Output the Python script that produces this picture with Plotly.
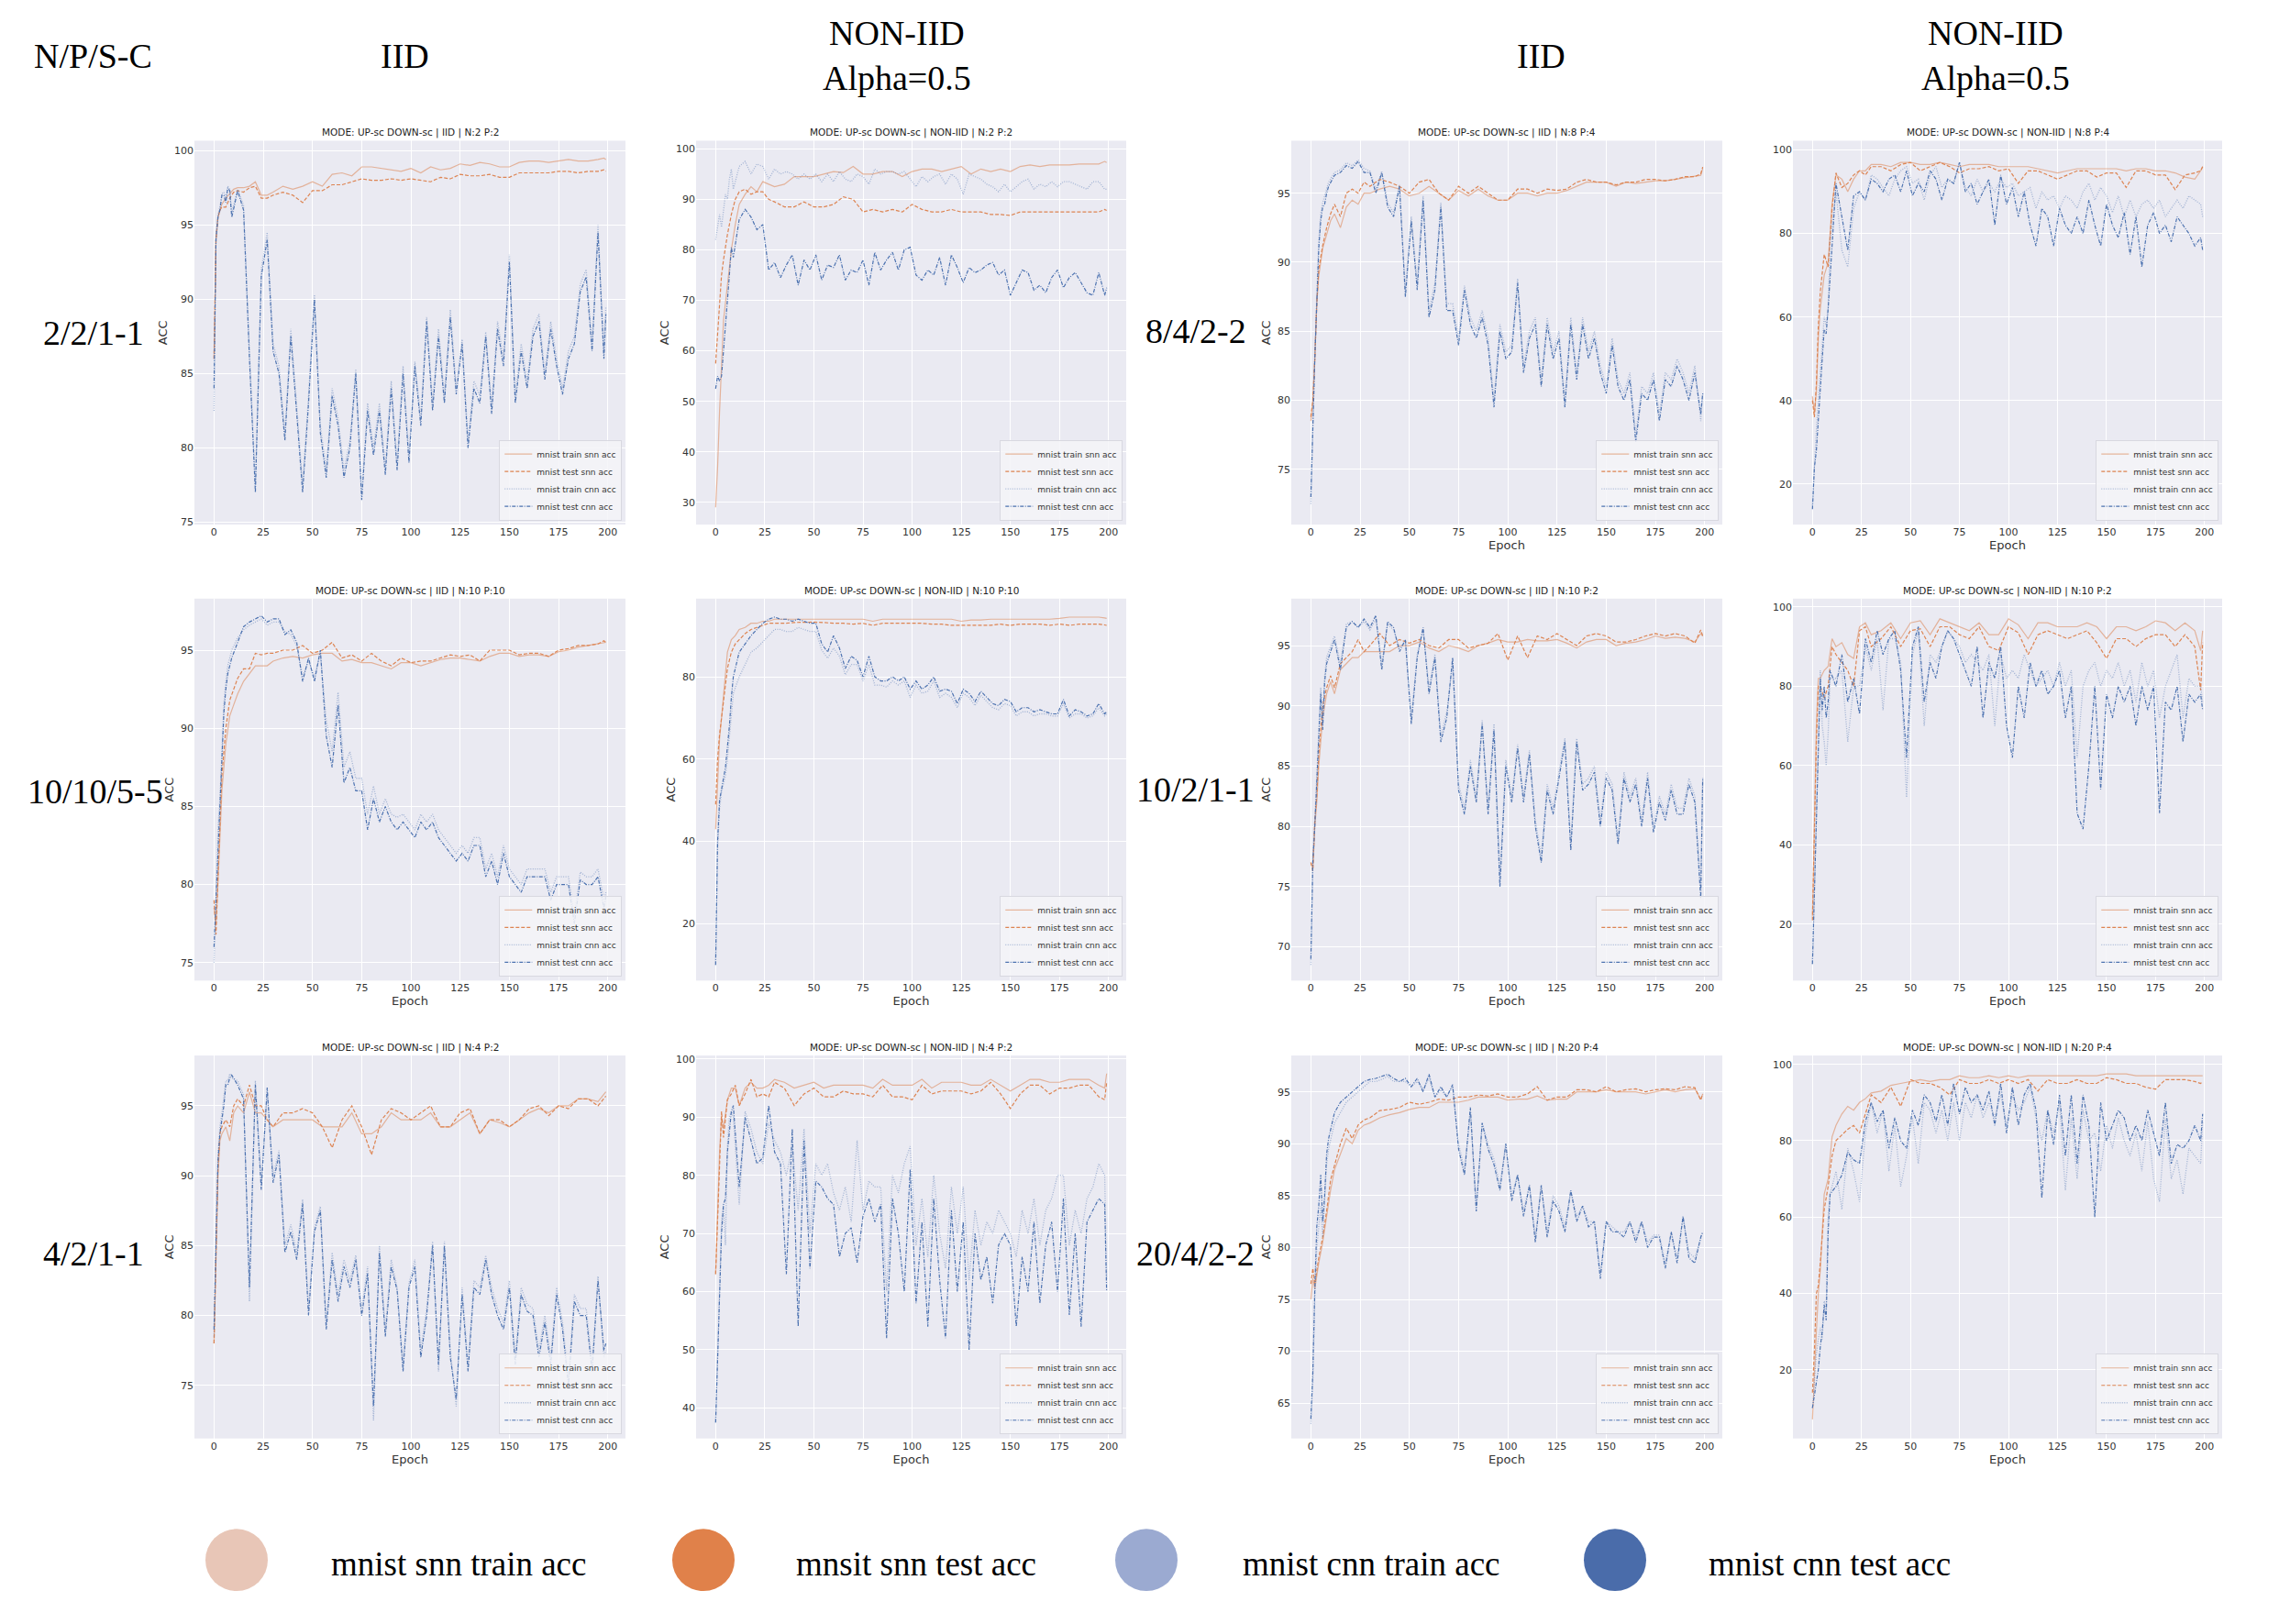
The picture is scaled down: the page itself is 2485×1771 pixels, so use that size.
import plotly.graph_objects as go

W, H = 2485, 1771

# epochs sampled for the snn curves (smoother) and the cnn curves (noisier)
EPOCHS = [0, 1, 2, 3, 4, 6, 8, 10, 12, 15, 18, 21, 24, 27, 30, 35, 40, 45, 50, 55,
          60, 65, 70, 75, 80, 85, 90, 95, 100, 105, 110, 115, 120, 125, 130, 135, 140, 145, 150, 155,
          160, 165, 170, 175, 180, 185, 190, 195, 198, 199]
CNN_EPOCHS = [0, 1, 2, 3, 4, 5, 6, 7, 8,
              9, 12, 15, 18, 21, 24, 27, 30, 33, 36,
              39, 42, 45, 48, 51, 54, 57, 60, 63, 66,
              69, 72, 75, 78, 81, 84, 87, 90, 93, 96,
              99, 102, 105, 108, 111, 114, 117, 120, 123, 126,
              129, 132, 135, 138, 141, 144, 147, 150, 153, 156,
              159, 162, 165, 168, 171, 174, 177, 180, 183, 186,
              189, 192, 195, 198, 199]

SERIES = ["mnist train snn acc", "mnist test snn acc", "mnist train cnn acc", "mnist test cnn acc"]

# ---- IID  N:2 P:2
N2P2_IID_SNN_TRAIN = [86.0, 94.0, 95.5, 96.0, 96.4, 96.8, 97.1, 97.4, 97.5, 97.5,
                      97.6, 97.9, 97.0, 97.0, 97.2, 97.6, 97.4, 97.6, 97.9, 97.6,
                      98.4, 98.5, 98.3, 98.9, 98.9, 98.8, 98.7, 98.6, 98.8, 98.5,
                      98.9, 98.7, 98.8, 99.1, 99.0, 99.2, 99.1, 98.9, 98.9, 99.2,
                      99.3, 99.3, 99.2, 99.3, 99.4, 99.3, 99.3, 99.4, 99.5, 99.4]
N2P2_IID_SNN_TEST = [86.0, 94.0, 95.5, 96.0, 96.2, 96.2, 96.8, 97.2, 97.3, 97.2,
                     97.5, 97.6, 96.8, 96.8, 97.0, 97.2, 97.0, 96.5, 97.3, 97.3,
                     97.7, 97.7, 97.9, 98.1, 98.0, 98.0, 98.1, 98.0, 98.1, 98.0,
                     97.9, 98.2, 98.1, 98.4, 98.3, 98.3, 98.4, 98.2, 98.2, 98.5,
                     98.5, 98.5, 98.5, 98.6, 98.6, 98.5, 98.6, 98.6, 98.7, 98.6]
N2P2_IID_CNN_TRAIN = [82.5, 94.2, 95.7, 96.2, 97.1, 97.2, 96.8, 97.6, 97.4,
                      95.8, 97.4, 96.3, 86.5, 77.5, 92.0, 94.5, 87.0, 85.5, 81.0,
                      88.0, 82.8, 77.5, 83.5, 90.3, 81.5, 78.5, 84.0, 82.0, 78.5,
                      80.5, 85.3, 77.0, 83.0, 80.0, 83.0, 78.7, 84.5, 79.0, 85.5,
                      79.5, 85.8, 82.0, 88.8, 83.0, 88.0, 83.5, 89.3, 84.0, 87.3,
                      80.5, 84.5, 83.5, 87.8, 82.8, 88.5, 86.0, 93.0, 83.5, 87.0,
                      84.5, 88.0, 89.0, 85.0, 88.5, 86.0, 84.0, 86.5, 87.5, 91.0,
                      92.0, 87.0, 95.0, 86.5, 89.5]
N2P2_IID_CNN_TEST = [84.0, 94.0, 95.5, 96.0, 97.0, 97.0, 96.5, 97.5, 97.3,
                     95.5, 97.3, 96.0, 86.0, 77.0, 91.5, 94.0, 86.5, 85.0, 80.5,
                     87.5, 82.3, 77.0, 83.0, 90.0, 81.0, 78.0, 83.5, 81.5, 78.0,
                     80.0, 85.0, 76.5, 82.5, 79.5, 82.5, 78.2, 84.0, 78.5, 85.0,
                     79.0, 85.5, 81.5, 88.5, 82.5, 87.5, 83.0, 88.8, 83.6, 87.0,
                     80.0, 84.0, 83.0, 87.5, 82.3, 88.0, 85.5, 92.5, 83.0, 86.5,
                     84.0, 87.5, 88.5, 84.6, 88.0, 85.5, 83.6, 86.0, 87.0, 90.5,
                     91.5, 86.5, 94.5, 86.0, 89.0]

# ---- NON-IID  N:2 P:2
N2P2_NON_SNN_TRAIN = [29.0, 37.0, 48.0, 58.0, 66.0, 73.0, 80.0, 85.0, 89.0, 91.0,
                      92.5, 91.5, 93.5, 93.0, 92.5, 93.0, 94.5, 94.5, 94.5, 95.0,
                      95.5, 95.3, 96.5, 95.0, 95.0, 95.5, 95.5, 94.5, 95.5, 96.0,
                      96.0, 95.5, 96.0, 96.5, 95.0, 96.0, 95.5, 96.0, 95.5, 96.5,
                      96.8, 96.5, 96.8, 96.8, 96.8, 97.0, 97.0, 97.0, 97.5, 97.3]
N2P2_NON_SNN_TEST = [57.5, 63.0, 70.0, 75.0, 78.0, 83.0, 87.0, 90.0, 91.5, 92.0,
                     91.0, 91.5, 91.5, 90.0, 89.5, 88.5, 88.5, 89.5, 88.5, 88.5,
                     89.0, 90.5, 90.0, 87.5, 88.0, 87.5, 88.0, 87.5, 89.0, 88.0,
                     87.5, 87.5, 88.0, 87.5, 87.5, 87.5, 87.0, 87.0, 86.8, 87.5,
                     87.5, 87.5, 87.5, 87.5, 87.5, 87.5, 87.5, 87.5, 88.0, 87.8]
N2P2_NON_CNN_TRAIN = [82.0, 85.0, 87.0, 84.5, 88.0, 91.0, 90.0, 94.0, 96.0,
                      92.0, 96.5, 97.5, 95.0, 97.0, 96.5, 94.0, 96.0, 95.0, 95.5,
                      95.0, 94.0, 95.0, 94.0, 95.0, 93.5, 95.0, 93.5, 95.5, 94.0,
                      93.5, 95.0, 94.5, 93.0, 96.0, 95.0, 95.5, 95.5, 95.0, 95.5,
                      94.0, 92.5, 94.5, 93.5, 94.5, 95.0, 93.0, 95.0, 94.0, 91.0,
                      95.0, 94.5, 94.0, 93.0, 92.5, 91.5, 93.0, 91.5, 92.5, 93.5,
                      94.0, 92.0, 93.0, 92.5, 93.5, 92.5, 93.5, 93.5, 93.0, 92.5,
                      92.0, 93.5, 93.5, 92.0, 92.0]
N2P2_NON_CNN_TEST = [52.5, 55.0, 54.0, 55.0, 60.0, 66.0, 70.0, 75.0, 80.5,
                     78.5, 86.0, 88.0, 86.5, 84.0, 85.0, 76.0, 77.5, 74.5, 77.0,
                     79.0, 73.0, 78.0, 76.0, 79.0, 74.0, 77.0, 76.5, 79.0, 74.0,
                     76.0, 75.5, 78.0, 73.0, 79.5, 76.0, 78.0, 79.5, 76.0, 80.0,
                     80.5, 75.0, 74.0, 76.0, 75.0, 78.5, 73.0, 79.0, 76.5, 73.5,
                     76.5, 75.5, 76.0, 77.0, 77.5, 75.0, 76.0, 71.0, 73.5, 76.0,
                     75.5, 72.0, 73.0, 71.5, 74.5, 76.0, 72.5, 74.5, 75.5, 73.5,
                     71.5, 71.0, 75.5, 71.0, 72.5]

# ---- IID  N:8 P:4
N8P4_IID_SNN_TRAIN = [78.5, 80.0, 83.0, 87.0, 89.0, 91.0, 92.0, 93.0, 93.5, 92.5,
                      94.0, 94.5, 94.2, 95.0, 95.0, 95.3, 95.5, 95.3, 94.8, 95.0,
                      95.5, 95.0, 94.5, 95.2, 94.8, 95.3, 94.8, 94.5, 94.5, 95.0,
                      95.0, 94.8, 95.0, 95.0, 95.2, 95.5, 95.8, 95.8, 95.8, 95.5,
                      95.8, 95.7, 95.8, 95.9, 95.9, 96.0, 96.1, 96.2, 96.3, 96.8]
N8P4_IID_SNN_TEST = [78.8, 80.0, 83.0, 87.0, 89.5, 91.2, 92.5, 93.5, 94.2, 93.3,
                     95.0, 95.3, 95.0, 95.8, 95.5, 96.0, 95.8, 95.5, 95.0, 95.8,
                     96.0, 95.0, 94.5, 95.5, 95.0, 95.5, 95.0, 94.5, 94.5, 95.3,
                     95.3, 95.0, 95.3, 95.2, 95.3, 95.8, 96.0, 95.8, 95.8, 95.6,
                     95.8, 95.8, 96.0, 96.0, 95.9, 96.0, 96.2, 96.2, 96.4, 96.9]
N8P4_IID_CNN_TRAIN = [72.5, 78.5, 83.5, 87.5, 91.5, 93.5, 94.3, 94.8, 95.3,
                      95.8, 96.5, 96.7, 97.2, 97.0, 97.4, 96.8, 96.6, 95.3, 96.6,
                      94.3, 93.6, 95.6, 88.0, 93.3, 88.5, 94.8, 86.5, 88.5, 94.3,
                      87.0, 87.0, 84.5, 88.3, 86.0, 85.0, 86.5, 84.5, 80.0, 85.5,
                      83.5, 84.0, 88.8, 82.5, 85.0, 86.0, 81.5, 86.0, 83.5, 85.0,
                      80.0, 86.0, 82.0, 86.0, 83.5, 85.0, 82.5, 81.0, 84.5, 81.5,
                      80.5, 82.0, 77.5, 81.0, 80.5, 82.0, 79.0, 82.0, 81.5, 83.0,
                      82.0, 80.5, 82.5, 78.5, 80.5]
N8P4_IID_CNN_TEST = [73.0, 79.0, 83.0, 87.0, 91.0, 93.0, 94.0, 94.2, 95.0,
                     95.5, 96.3, 96.5, 97.0, 96.8, 97.3, 96.5, 96.5, 95.0, 96.5,
                     94.0, 93.3, 95.5, 87.5, 93.0, 88.0, 94.5, 86.0, 88.0, 94.0,
                     86.5, 86.5, 84.0, 88.0, 85.5, 84.5, 86.0, 84.0, 79.5, 85.0,
                     83.0, 83.5, 88.5, 82.0, 84.5, 85.5, 81.0, 85.5, 83.0, 84.5,
                     79.5, 85.5, 81.5, 85.5, 83.0, 84.5, 82.0, 80.5, 84.0, 81.0,
                     80.0, 81.5, 77.0, 80.5, 80.0, 81.5, 78.5, 81.5, 81.0, 82.5,
                     81.5, 80.0, 82.0, 79.0, 80.5]

# ---- NON-IID  N:8 P:4
N8P4_NON_SNN_TRAIN = [41.0, 37.0, 42.0, 55.0, 62.0, 70.0, 73.0, 87.0, 94.0, 93.0,
                      90.0, 93.0, 95.0, 95.0, 96.5, 96.5, 96.0, 97.0, 97.0, 96.5,
                      96.5, 97.0, 96.5, 96.0, 96.5, 96.5, 96.5, 96.0, 96.0, 96.0,
                      96.0, 95.5, 95.0, 94.5, 95.0, 95.5, 95.5, 95.5, 95.5, 95.5,
                      95.0, 95.5, 95.5, 95.0, 95.0, 94.5, 93.5, 93.0, 95.0, 96.0]
N8P4_NON_SNN_TEST = [40.0, 36.0, 44.0, 58.0, 66.0, 75.0, 72.0, 86.0, 94.5, 91.0,
                     92.0, 94.0, 95.0, 94.0, 96.0, 96.0, 95.0, 96.5, 97.0, 95.0,
                     96.0, 97.0, 96.0, 94.5, 95.5, 95.5, 96.0, 95.0, 95.5, 92.0,
                     95.0, 95.0, 94.0, 93.0, 94.0, 95.0, 95.0, 93.5, 94.5, 94.5,
                     91.0, 95.0, 95.0, 94.0, 94.0, 90.5, 94.0, 94.5, 95.0, 96.0]
N8P4_NON_CNN_TRAIN = [15.0, 25.0, 33.0, 40.0, 46.0, 53.0, 60.0, 58.0, 62.0,
                      78.0, 90.0, 76.0, 72.0, 86.0, 90.0, 88.0, 94.0, 93.0, 91.0,
                      89.0, 93.0, 95.0, 96.0, 92.0, 93.0, 88.0, 94.0, 96.0, 91.0,
                      93.0, 92.0, 97.0, 91.0, 89.0, 93.0, 90.0, 92.0, 90.0, 93.0,
                      91.0, 92.0, 89.0, 90.0, 91.0, 86.0, 90.0, 88.0, 89.0, 86.0,
                      89.0, 88.0, 86.0, 90.0, 92.0, 88.0, 91.0, 89.0, 85.0, 89.0,
                      84.0, 88.0, 84.0, 87.0, 88.0, 86.0, 88.0, 84.0, 86.0, 88.0,
                      86.0, 89.0, 88.0, 87.0, 84.0]
N8P4_NON_CNN_TEST = [14.0, 24.0, 28.0, 36.0, 43.0, 50.0, 57.0, 56.0, 62.0,
                     70.0, 92.0, 84.0, 76.0, 89.0, 90.0, 88.0, 93.0, 92.0, 90.0,
                     93.0, 94.0, 90.0, 95.0, 89.0, 92.0, 90.0, 95.0, 93.0, 88.0,
                     93.0, 92.0, 97.0, 90.0, 92.0, 87.0, 90.0, 93.0, 82.0, 94.0,
                     87.0, 91.0, 84.0, 90.0, 82.0, 77.0, 86.0, 84.0, 77.0, 86.0,
                     82.0, 80.0, 84.0, 80.0, 88.0, 82.0, 77.0, 87.0, 82.0, 79.0,
                     85.0, 75.0, 84.0, 72.0, 82.0, 85.0, 80.0, 82.0, 78.0, 84.0,
                     82.0, 80.0, 77.0, 79.0, 76.0]

# ---- IID  N:10 P:10
N10P10_IID_SNN_TRAIN = [78.5, 77.5, 80.0, 83.5, 86.0, 89.0, 90.8, 91.5, 92.2, 93.0,
                        93.5, 94.0, 94.0, 94.0, 94.3, 94.5, 94.6, 94.5, 94.7, 94.8,
                        94.8, 94.3, 94.4, 94.2, 94.2, 94.0, 93.8, 94.2, 94.2, 94.0,
                        94.2, 94.4, 94.5, 94.5, 94.4, 94.3, 94.6, 94.8, 94.8, 94.6,
                        94.7, 94.7, 94.6, 94.9, 95.0, 95.2, 95.3, 95.4, 95.5, 95.5]
N10P10_IID_SNN_TEST = [79.0, 76.8, 80.5, 84.0, 87.0, 90.0, 91.8, 92.5, 93.2, 93.8,
                       93.8, 94.8, 94.7, 94.8, 94.8, 95.0, 95.0, 95.3, 94.8, 95.0,
                       95.5, 94.5, 94.7, 94.3, 94.8, 94.3, 94.0, 94.5, 94.2, 94.3,
                       94.3, 94.5, 94.7, 94.6, 94.7, 94.3, 95.0, 95.0, 95.0, 94.7,
                       94.8, 94.8, 94.6, 95.0, 95.1, 95.3, 95.3, 95.4, 95.6, 95.5]
N10P10_IID_CNN_TRAIN = [75.0, 79.5, 83.5, 85.5, 88.5, 91.5, 93.0, 94.0, 94.5,
                        95.0, 95.8, 96.3, 96.6, 96.8, 97.0, 96.6, 96.8, 96.8, 96.2,
                        96.0, 95.3, 93.3, 94.3, 93.3, 94.8, 90.5, 88.5, 92.3, 87.5,
                        88.5, 86.8, 86.8, 84.5, 86.3, 84.5, 85.5, 84.5, 84.3, 84.5,
                        84.0, 83.5, 84.5, 84.0, 84.5, 83.5, 83.0, 82.5, 82.0, 82.5,
                        82.0, 83.0, 83.0, 81.0, 82.0, 80.5, 82.5, 81.0, 80.5, 80.0,
                        81.0, 81.0, 81.0, 81.0, 79.5, 80.5, 80.5, 80.5, 78.0, 80.8,
                        80.5, 80.5, 81.0, 79.0, 79.5]
N10P10_IID_CNN_TEST = [76.0, 79.0, 83.0, 85.0, 88.0, 91.0, 92.5, 93.5, 94.0,
                       94.5, 95.5, 96.5, 96.8, 97.0, 97.2, 96.8, 97.0, 97.0, 96.0,
                       96.3, 95.5, 93.0, 94.5, 93.0, 95.0, 89.5, 87.5, 91.5, 86.5,
                       87.5, 86.0, 86.0, 83.5, 85.5, 84.0, 85.0, 84.0, 83.5, 84.0,
                       83.5, 83.0, 84.0, 83.5, 84.0, 83.0, 82.5, 82.0, 81.5, 82.0,
                       81.5, 82.5, 82.5, 80.5, 81.5, 80.0, 82.0, 80.5, 80.0, 79.5,
                       80.5, 80.5, 80.5, 80.5, 79.0, 80.0, 80.0, 80.0, 77.5, 80.3,
                       80.0, 80.0, 80.5, 78.5, 79.2]

# ---- NON-IID  N:10 P:10
N10P10_NON_SNN_TRAIN = [43.0, 55.0, 65.0, 70.0, 76.0, 86.0, 89.0, 90.0, 91.5, 92.0,
                        93.0, 93.0, 93.5, 93.5, 94.0, 94.0, 94.0, 94.0, 94.0, 94.0,
                        94.0, 94.0, 94.0, 94.0, 93.5, 94.0, 94.0, 94.0, 94.0, 94.0,
                        94.0, 94.0, 94.0, 93.5, 93.8, 93.8, 94.0, 94.0, 94.0, 94.0,
                        94.0, 94.0, 94.0, 94.2, 94.5, 94.5, 94.5, 94.5, 94.3, 94.2]
N10P10_NON_SNN_TEST = [49.0, 60.0, 66.0, 70.0, 74.0, 82.0, 86.0, 88.0, 89.0, 90.5,
                       91.5, 92.0, 92.5, 93.0, 93.0, 93.0, 93.2, 93.3, 93.3, 93.2,
                       93.0, 93.0, 92.8, 93.0, 92.5, 93.0, 93.0, 93.0, 93.0, 93.0,
                       92.8, 92.8, 92.5, 92.5, 92.5, 92.5, 92.5, 92.8, 92.5, 92.8,
                       92.8, 92.8, 92.5, 92.8, 92.5, 92.8, 92.8, 92.8, 92.6, 92.5]
N10P10_NON_CNN_TRAIN = [10.0, 38.0, 48.0, 52.0, 54.0, 56.0, 60.0, 65.0, 71.0,
                        76.0, 80.0, 83.0, 86.0, 87.0, 88.5, 90.0, 91.5, 91.5, 91.0,
                        91.0, 92.0, 91.5, 91.0, 91.0, 86.5, 84.5, 87.0, 85.0, 80.5,
                        83.0, 83.0, 79.0, 83.0, 78.0, 78.0, 77.5, 79.0, 78.0, 79.0,
                        75.0, 78.0, 76.0, 76.5, 79.0, 75.0, 76.0, 75.0, 72.5, 76.0,
                        75.0, 73.0, 75.5, 74.0, 72.5, 72.0, 73.5, 73.0, 70.5, 71.5,
                        71.5, 70.5, 71.0, 71.0, 70.5, 70.5, 73.5, 70.0, 71.0, 71.0,
                        70.0, 70.5, 72.5, 70.5, 71.0]
N10P10_NON_CNN_TEST = [10.0, 40.0, 50.0, 53.0, 56.0, 58.0, 63.0, 68.0, 75.0,
                       80.0, 86.0, 88.0, 90.0, 91.5, 93.0, 94.0, 94.5, 94.0, 94.0,
                       93.5, 94.0, 93.5, 93.0, 93.0, 88.0, 86.0, 90.0, 87.0, 82.0,
                       85.0, 84.0, 80.0, 85.0, 80.0, 79.0, 79.0, 80.0, 79.0, 80.0,
                       77.0, 79.0, 77.0, 78.0, 80.0, 76.5, 77.0, 76.5, 73.5, 77.0,
                       76.0, 74.0, 76.5, 75.0, 73.5, 73.0, 74.5, 74.0, 71.5, 72.5,
                       72.5, 71.5, 72.0, 71.5, 71.0, 71.0, 74.5, 70.5, 72.0, 71.5,
                       70.5, 71.0, 73.5, 71.0, 71.5]

# ---- IID  N:10 P:2
N10P2_IID_SNN_TRAIN = [77.0, 76.5, 80.0, 82.0, 85.0, 89.0, 91.0, 92.0, 91.0, 93.0,
                       93.5, 94.0, 94.0, 94.5, 94.5, 94.5, 94.5, 95.0, 95.0, 95.3,
                       94.8, 94.5, 95.0, 94.8, 94.5, 95.0, 95.2, 95.5, 95.3, 95.3,
                       95.5, 95.4, 95.4, 95.5, 95.2, 94.8, 95.3, 95.5, 95.5, 95.0,
                       95.2, 95.3, 95.5, 95.8, 95.6, 95.7, 95.6, 95.3, 96.0, 95.8]
N10P2_IID_SNN_TEST = [77.0, 76.3, 80.5, 82.5, 86.0, 90.0, 91.5, 92.5, 91.5, 93.5,
                      94.0, 94.5, 95.5, 94.5, 95.0, 96.0, 95.0, 95.5, 95.2, 95.5,
                      95.0, 94.8, 95.5, 95.5, 94.8, 95.0, 95.2, 96.0, 93.8, 95.8,
                      94.0, 95.8, 95.5, 96.0, 95.5, 95.0, 95.8, 96.0, 95.8, 95.3,
                      95.3, 95.5, 95.8, 96.0, 95.8, 96.0, 95.8, 95.2, 96.3, 95.8]
N10P2_IID_CNN_TRAIN = [68.5, 77.5, 80.5, 84.5, 88.5, 91.5, 89.0, 92.5, 94.0,
                       94.5, 95.8, 93.5, 96.8, 97.0, 96.5, 97.0, 96.3, 97.2, 93.5,
                       96.8, 96.3, 94.8, 95.3, 89.0, 94.3, 96.3, 91.5, 94.3, 87.5,
                       89.5, 93.5, 83.5, 81.5, 85.5, 82.5, 88.8, 81.5, 88.5, 76.0,
                       85.5, 82.5, 86.8, 82.5, 86.3, 80.5, 77.5, 83.5, 81.5, 84.5,
                       87.3, 78.5, 87.3, 83.5, 84.0, 85.0, 80.5, 84.5, 83.5, 79.0,
                       84.5, 82.5, 84.0, 80.5, 84.5, 80.0, 82.5, 81.0, 83.5, 81.5,
                       81.5, 84.0, 82.5, 75.0, 84.0]
N10P2_IID_CNN_TEST = [69.0, 77.0, 80.0, 84.0, 88.0, 91.0, 88.0, 92.0, 93.5,
                      94.0, 95.5, 93.0, 96.5, 97.0, 96.5, 97.2, 96.5, 97.5, 93.0,
                      97.0, 96.5, 94.5, 95.5, 88.5, 94.0, 96.5, 91.0, 94.0, 87.0,
                      89.0, 94.0, 83.0, 81.0, 85.0, 82.0, 88.5, 81.0, 88.0, 75.0,
                      85.0, 82.0, 86.5, 82.0, 86.0, 80.0, 77.0, 83.0, 81.0, 84.0,
                      87.0, 78.0, 87.0, 83.0, 83.5, 84.5, 80.0, 84.0, 83.0, 78.5,
                      84.0, 82.0, 83.5, 80.0, 84.0, 79.5, 82.0, 80.5, 83.0, 81.0,
                      81.0, 83.5, 82.0, 74.0, 84.0]

# ---- NON-IID  N:10 P:2
N10P2_NON_SNN_TRAIN = [22.0, 50.0, 70.0, 82.0, 82.0, 84.0, 85.0, 92.0, 90.0, 91.0,
                       88.0, 87.0, 95.0, 96.0, 93.0, 94.0, 96.0, 92.0, 96.0, 96.5,
                       93.0, 97.0, 96.0, 95.0, 94.0, 96.0, 93.0, 93.0, 97.0, 95.5,
                       92.0, 96.0, 96.0, 95.0, 95.0, 95.0, 96.0, 95.0, 92.0, 95.0,
                       95.0, 94.0, 95.0, 96.5, 96.0, 94.0, 96.0, 94.0, 89.0, 94.0]
N10P2_NON_SNN_TEST = [21.0, 48.0, 66.0, 80.0, 80.0, 77.0, 80.0, 90.0, 88.0, 86.0,
                      84.0, 80.0, 94.0, 95.0, 90.0, 92.0, 95.0, 90.0, 94.0, 94.5,
                      90.0, 95.0, 95.0, 93.0, 92.0, 95.0, 90.0, 89.0, 95.0, 93.5,
                      88.0, 93.0, 94.0, 93.0, 92.0, 93.0, 94.0, 91.0, 87.0, 92.0,
                      92.0, 90.0, 92.0, 93.0, 93.0, 90.0, 93.0, 90.0, 79.0, 91.0]
N10P2_NON_CNN_TRAIN = [10.0, 30.0, 50.0, 65.0, 84.0, 70.0, 66.0, 60.0, 68.0,
                       82.0, 82.0, 84.0, 66.0, 80.0, 80.0, 90.0, 84.0, 92.0, 74.0,
                       92.0, 92.0, 86.0, 52.0, 88.0, 94.0, 70.0, 88.0, 86.0, 90.0,
                       94.0, 92.0, 90.0, 86.0, 88.0, 86.0, 84.0, 88.0, 70.0, 88.0,
                       82.0, 84.0, 82.0, 88.0, 84.0, 80.0, 82.0, 84.0, 80.0, 86.0,
                       80.0, 84.0, 62.0, 80.0, 84.0, 86.0, 80.0, 84.0, 82.0, 86.0,
                       80.0, 84.0, 76.0, 86.0, 80.0, 84.0, 72.0, 80.0, 84.0, 88.0,
                       72.0, 82.0, 80.0, 80.0, 76.0]
N10P2_NON_CNN_TEST = [10.0, 28.0, 48.0, 62.0, 82.0, 74.0, 80.0, 72.0, 76.0,
                      84.0, 80.0, 88.0, 76.0, 82.0, 73.0, 92.0, 86.0, 94.0, 88.0,
                      92.0, 94.0, 84.0, 62.0, 90.0, 95.0, 76.0, 86.0, 82.0, 90.0,
                      94.0, 92.0, 88.0, 84.0, 80.0, 90.0, 72.0, 86.0, 82.0, 90.0,
                      70.0, 62.0, 80.0, 72.0, 86.0, 80.0, 84.0, 78.0, 80.0, 84.0,
                      72.0, 80.0, 48.0, 44.0, 60.0, 80.0, 54.0, 78.0, 72.0, 80.0,
                      76.0, 80.0, 70.0, 80.0, 74.0, 80.0, 48.0, 76.0, 74.0, 80.0,
                      66.0, 78.0, 76.0, 78.0, 74.0]

# ---- IID  N:4 P:2
N4P2_IID_SNN_TRAIN = [78.0, 84.0, 90.0, 92.5, 93.0, 93.5, 92.5, 94.5, 95.0, 94.5,
                      96.0, 94.5, 94.5, 94.0, 93.5, 94.0, 94.0, 94.0, 94.0, 93.5,
                      93.5, 93.5, 94.5, 93.0, 93.0, 93.5, 94.5, 94.0, 94.0, 94.0,
                      94.5, 93.5, 93.5, 94.0, 94.5, 93.0, 94.0, 93.8, 93.5, 94.0,
                      94.5, 94.8, 94.5, 95.0, 95.0, 95.5, 95.5, 95.3, 95.8, 96.0]
N4P2_IID_SNN_TEST = [78.0, 85.0, 90.5, 93.0, 93.5, 94.0, 93.5, 95.0, 95.5, 95.0,
                     96.5, 95.0, 95.0, 94.0, 93.5, 94.5, 94.5, 94.8, 94.5, 93.5,
                     92.0, 94.0, 95.0, 93.5, 91.5, 94.0, 94.8, 94.5, 94.0, 94.5,
                     95.0, 93.5, 93.5, 94.5, 94.8, 93.0, 94.0, 94.0, 93.5, 94.0,
                     94.8, 95.0, 94.3, 95.0, 94.8, 95.5, 95.5, 95.0, 95.5, 95.7]
N4P2_IID_CNN_TRAIN = [78.5, 86.5, 91.5, 93.5, 94.5, 95.5, 96.8, 96.8, 97.3,
                      97.0, 96.8, 95.8, 81.0, 96.8, 89.5, 96.0, 90.0, 91.8, 85.0,
                      86.5, 84.5, 88.3, 80.5, 86.3, 87.8, 79.5, 84.5, 81.5, 84.0,
                      82.5, 84.3, 80.5, 83.5, 72.5, 85.0, 79.0, 84.0, 82.0, 76.5,
                      82.3, 84.0, 77.5, 80.5, 85.3, 76.0, 85.3, 77.5, 73.5, 82.0,
                      76.5, 82.5, 82.0, 84.3, 82.0, 80.5, 79.5, 82.5, 77.0, 82.0,
                      80.8, 80.5, 77.5, 80.0, 77.0, 82.0, 79.5, 75.5, 81.5, 80.5,
                      80.5, 76.5, 82.8, 77.0, 77.5]
N4P2_IID_CNN_TEST = [79.0, 86.0, 91.0, 93.0, 94.0, 95.0, 96.5, 96.5, 97.0,
                     97.2, 96.5, 95.5, 82.0, 96.5, 89.0, 96.3, 89.5, 91.5, 84.5,
                     86.0, 84.0, 88.0, 80.0, 86.0, 87.5, 79.0, 84.0, 81.0, 83.5,
                     82.0, 84.0, 80.0, 83.0, 73.5, 84.5, 78.5, 83.5, 81.8, 76.0,
                     82.0, 83.5, 77.0, 80.0, 85.0, 76.5, 85.0, 77.0, 74.0, 81.5,
                     76.0, 82.0, 81.5, 84.0, 81.5, 80.0, 79.0, 82.0, 76.5, 81.5,
                     80.3, 80.0, 77.0, 79.5, 76.5, 81.5, 79.0, 75.0, 81.0, 80.0,
                     80.0, 76.0, 82.5, 77.5, 78.0]

# ---- NON-IID  N:4 P:2
N4P2_NON_SNN_TRAIN = [63.0, 75.0, 84.0, 90.0, 88.0, 93.0, 95.0, 95.0, 92.0, 95.0,
                      96.0, 95.0, 95.0, 95.5, 96.5, 96.0, 95.0, 95.5, 96.0, 95.0,
                      95.5, 95.5, 95.5, 95.5, 95.0, 96.5, 95.5, 95.5, 95.5, 96.5,
                      95.0, 96.0, 96.0, 96.0, 95.5, 95.5, 96.5, 95.5, 94.5, 95.5,
                      96.5, 96.5, 96.0, 96.0, 96.5, 96.5, 96.5, 95.5, 95.0, 97.5]
N4P2_NON_SNN_TEST = [63.0, 73.0, 82.0, 91.0, 86.5, 93.0, 94.0, 95.5, 92.0, 94.0,
                     96.5, 93.5, 94.0, 93.5, 96.0, 95.0, 92.0, 94.0, 95.0, 93.5,
                     93.5, 94.5, 94.0, 94.0, 93.5, 95.5, 93.5, 93.5, 93.0, 95.5,
                     94.0, 94.5, 94.5, 94.5, 94.0, 94.5, 96.0, 94.0, 91.5, 94.0,
                     95.5, 95.5, 94.0, 95.0, 95.0, 95.5, 95.5, 93.5, 93.0, 96.0]
N4P2_NON_CNN_TRAIN = [37.5, 50.0, 62.0, 72.0, 75.0, 68.0, 85.0, 90.0, 91.0,
                      90.0, 75.0, 91.0, 88.0, 84.0, 82.0, 89.0, 86.0, 84.0, 80.0,
                      85.0, 74.0, 88.0, 70.0, 82.0, 80.0, 82.0, 77.0, 74.0, 78.0,
                      72.0, 86.0, 74.0, 79.0, 78.0, 78.0, 60.0, 80.0, 77.0, 82.0,
                      85.0, 68.0, 76.0, 66.0, 80.0, 70.0, 64.0, 78.0, 70.0, 78.0,
                      62.0, 74.0, 68.0, 72.0, 70.0, 74.0, 72.0, 70.0, 66.0, 74.0,
                      70.0, 76.0, 68.0, 74.0, 76.0, 80.0, 80.0, 68.0, 74.0, 70.0,
                      76.0, 78.0, 82.0, 80.0, 62.0]
N4P2_NON_CNN_TEST = [37.5, 48.0, 58.0, 70.0, 75.0, 76.0, 84.0, 88.0, 91.0,
                     92.0, 78.0, 90.0, 86.0, 82.0, 83.0, 92.0, 84.0, 82.0, 63.0,
                     88.0, 54.0, 86.0, 64.0, 79.0, 78.0, 76.0, 75.0, 66.0, 70.0,
                     71.0, 65.0, 73.0, 76.0, 72.0, 75.0, 52.0, 76.0, 70.0, 60.0,
                     81.0, 58.0, 72.0, 54.0, 76.0, 62.0, 52.0, 74.0, 60.0, 72.0,
                     50.0, 70.0, 62.0, 66.0, 58.0, 68.0, 70.0, 68.0, 54.0, 66.0,
                     60.0, 72.0, 58.0, 68.0, 72.0, 60.0, 76.0, 56.0, 70.0, 54.0,
                     72.0, 74.0, 76.0, 75.0, 60.0]

# ---- IID  N:20 P:4
N20P4_IID_SNN_TRAIN = [75.0, 77.0, 76.0, 77.5, 78.5, 80.5, 83.0, 85.5, 87.5, 89.0,
                       90.5, 90.0, 91.3, 91.8, 92.0, 92.5, 92.8, 93.0, 93.3, 93.5,
                       93.5, 94.0, 94.0, 94.0, 94.2, 94.5, 94.5, 94.5, 94.2, 94.3,
                       94.3, 94.6, 94.2, 94.3, 94.3, 95.0, 95.0, 95.0, 95.2, 95.0,
                       95.0, 95.0, 94.8, 95.0, 95.2, 95.0, 95.2, 95.3, 94.3, 94.8]
N20P4_IID_SNN_TEST = [76.5, 78.0, 76.5, 78.0, 79.0, 81.0, 83.5, 86.5, 88.0, 90.0,
                      91.5, 90.5, 91.8, 92.3, 92.5, 93.2, 93.3, 93.5, 94.0, 93.8,
                      94.0, 94.3, 94.2, 94.5, 94.5, 94.7, 94.6, 94.8, 94.5, 94.5,
                      94.8, 95.5, 94.2, 94.5, 94.5, 95.2, 95.2, 95.0, 95.5, 95.0,
                      95.2, 95.3, 95.0, 95.2, 95.3, 95.2, 95.5, 95.4, 94.2, 94.8]
N20P4_IID_CNN_TRAIN = [63.0, 67.0, 75.0, 80.0, 82.0, 84.0, 81.0, 84.0, 88.0,
                       89.5, 92.0, 93.0, 94.0, 94.5, 95.0, 95.5, 96.0, 96.0, 96.2,
                       96.5, 96.0, 96.0, 96.0, 95.5, 96.0, 95.3, 96.3, 94.5, 95.2,
                       94.5, 95.5, 90.0, 87.5, 93.0, 84.0, 92.0, 90.0, 88.5, 86.0,
                       90.0, 85.0, 87.0, 83.5, 86.0, 81.0, 86.0, 81.5, 85.0, 84.0,
                       82.0, 85.5, 83.0, 84.0, 82.5, 82.5, 77.5, 82.5, 82.0, 81.5,
                       81.5, 82.5, 81.0, 82.5, 80.5, 81.2, 81.2, 78.5, 81.5, 79.0,
                       83.0, 79.5, 79.0, 81.0, 81.5]
N20P4_IID_CNN_TEST = [63.5, 68.0, 76.0, 82.0, 84.0, 87.0, 82.5, 85.0, 89.0,
                      90.5, 93.0, 94.0, 94.5, 95.0, 95.5, 96.0, 96.2, 96.3, 96.5,
                      96.7, 96.3, 96.0, 96.3, 95.5, 96.3, 95.0, 96.7, 94.5, 95.5,
                      94.5, 95.7, 89.5, 87.0, 93.5, 83.5, 92.0, 89.5, 88.0, 85.5,
                      90.0, 84.5, 87.0, 83.0, 86.0, 80.5, 86.0, 81.0, 84.5, 83.5,
                      81.5, 85.5, 82.5, 84.0, 82.0, 82.5, 77.0, 82.5, 81.5, 81.5,
                      81.0, 82.5, 80.5, 82.5, 80.0, 81.0, 81.0, 78.0, 81.5, 78.5,
                      83.0, 79.0, 78.5, 81.0, 81.5]

# ---- NON-IID  N:20 P:4
N20P4_NON_SNN_TRAIN = [7.0, 20.0, 30.0, 40.0, 46.0, 66.0, 70.0, 81.0, 84.0, 87.0,
                       89.0, 88.0, 90.0, 91.0, 92.5, 93.0, 94.5, 95.0, 95.5, 96.0,
                       95.5, 96.0, 96.0, 97.0, 96.5, 96.5, 97.0, 96.5, 97.0, 96.5,
                       97.0, 97.0, 97.0, 97.0, 97.0, 97.0, 97.0, 97.0, 97.5, 97.5,
                       97.5, 97.0, 97.0, 97.0, 97.0, 97.0, 97.0, 97.0, 97.0, 97.0]
N20P4_NON_SNN_TEST = [14.0, 25.0, 40.0, 42.0, 48.0, 62.0, 68.0, 76.0, 80.0, 81.5,
                      83.0, 84.0, 82.0, 87.0, 92.0, 90.0, 94.0, 89.0, 96.0, 95.0,
                      95.0, 94.0, 92.0, 96.0, 95.0, 95.0, 96.0, 95.0, 96.0, 95.0,
                      96.0, 93.0, 96.0, 95.0, 95.0, 96.0, 95.0, 95.0, 96.5, 96.0,
                      95.0, 95.0, 94.0, 93.5, 96.0, 96.0, 96.0, 95.5, 95.0, 95.5]
N20P4_NON_CNN_TRAIN = [10.0, 18.0, 24.0, 28.0, 31.0, 28.0, 38.0, 36.0, 60.0,
                       66.0, 72.0, 62.0, 78.0, 72.0, 64.0, 82.0, 90.0, 82.0, 88.0,
                       72.0, 84.0, 68.0, 76.0, 86.0, 74.0, 90.0, 88.0, 82.0, 88.0,
                       80.0, 90.0, 80.0, 90.0, 86.0, 92.0, 86.0, 90.0, 86.0, 92.0,
                       84.0, 92.0, 88.0, 90.0, 94.0, 86.0, 80.0, 88.0, 82.0, 90.0,
                       67.0, 86.0, 70.0, 88.0, 80.0, 82.0, 72.0, 84.0, 78.0, 86.0,
                       80.0, 76.0, 82.0, 72.0, 85.0, 70.0, 64.0, 86.0, 70.0, 75.0,
                       66.0, 78.0, 76.0, 74.0, 85.0]
N20P4_NON_CNN_TEST = [10.0, 13.0, 17.0, 20.0, 26.0, 30.0, 37.0, 33.0, 56.0,
                      66.0, 68.0, 71.0, 77.0, 75.0, 74.0, 85.0, 90.0, 85.0, 88.0,
                      78.0, 86.0, 80.0, 78.0, 88.0, 84.0, 92.0, 90.0, 85.0, 92.0,
                      84.0, 95.0, 87.0, 94.0, 90.0, 92.0, 88.0, 93.0, 84.0, 95.0,
                      82.0, 94.0, 84.0, 92.0, 95.0, 88.0, 65.0, 88.0, 79.0, 92.0,
                      76.0, 92.0, 74.0, 92.0, 84.0, 60.0, 90.0, 80.0, 84.0, 88.0,
                      86.0, 80.0, 84.0, 80.0, 88.0, 82.0, 76.0, 90.0, 74.0, 79.0,
                      78.0, 80.0, 84.0, 80.0, 87.0]

# panel order: row by row, left to right
PANELS = [
    ("MODE: UP-sc DOWN-sc | IID | N:2 P:2", [N2P2_IID_SNN_TRAIN, N2P2_IID_SNN_TEST, N2P2_IID_CNN_TRAIN, N2P2_IID_CNN_TEST], [74.84, 100.66], 5, True, False),
    ("MODE: UP-sc DOWN-sc | NON-IID | N:2 P:2", [N2P2_NON_SNN_TRAIN, N2P2_NON_SNN_TEST, N2P2_NON_CNN_TRAIN, N2P2_NON_CNN_TEST], [25.6, 101.6], 10, True, False),
    ("MODE: UP-sc DOWN-sc | IID | N:8 P:4", [N8P4_IID_SNN_TRAIN, N8P4_IID_SNN_TEST, N8P4_IID_CNN_TRAIN, N8P4_IID_CNN_TEST], [71.0, 98.8], 5, True, True),
    ("MODE: UP-sc DOWN-sc | NON-IID | N:8 P:4", [N8P4_NON_SNN_TRAIN, N8P4_NON_SNN_TEST, N8P4_NON_CNN_TRAIN, N8P4_NON_CNN_TEST], [10.3, 102.2], 20, False, True),
    ("MODE: UP-sc DOWN-sc | IID | N:10 P:10", [N10P10_IID_SNN_TRAIN, N10P10_IID_SNN_TEST, N10P10_IID_CNN_TRAIN, N10P10_IID_CNN_TEST], [73.85, 98.3], 5, True, True),
    ("MODE: UP-sc DOWN-sc | NON-IID | N:10 P:10", [N10P10_NON_SNN_TRAIN, N10P10_NON_SNN_TEST, N10P10_NON_CNN_TRAIN, N10P10_NON_CNN_TEST], [6.2, 99.0], 20, True, True),
    ("MODE: UP-sc DOWN-sc | IID | N:10 P:2", [N10P2_IID_SNN_TRAIN, N10P2_IID_SNN_TEST, N10P2_IID_CNN_TRAIN, N10P2_IID_CNN_TEST], [67.2, 98.9], 5, True, True),
    ("MODE: UP-sc DOWN-sc | NON-IID | N:10 P:2", [N10P2_NON_SNN_TRAIN, N10P2_NON_SNN_TEST, N10P2_NON_CNN_TRAIN, N10P2_NON_CNN_TEST], [5.8, 102.1], 20, False, True),
    ("MODE: UP-sc DOWN-sc | IID | N:4 P:2", [N4P2_IID_SNN_TRAIN, N4P2_IID_SNN_TEST, N4P2_IID_CNN_TRAIN, N4P2_IID_CNN_TEST], [71.2, 98.6], 5, True, True),
    ("MODE: UP-sc DOWN-sc | NON-IID | N:4 P:2", [N4P2_NON_SNN_TRAIN, N4P2_NON_SNN_TEST, N4P2_NON_CNN_TRAIN, N4P2_NON_CNN_TEST], [34.75, 100.6], 10, True, True),
    ("MODE: UP-sc DOWN-sc | IID | N:20 P:4", [N20P4_IID_SNN_TRAIN, N20P4_IID_SNN_TEST, N20P4_IID_CNN_TRAIN, N20P4_IID_CNN_TEST], [61.6, 98.5], 5, True, True),
    ("MODE: UP-sc DOWN-sc | NON-IID | N:20 P:4", [N20P4_NON_SNN_TRAIN, N20P4_NON_SNN_TEST, N20P4_NON_CNN_TRAIN, N20P4_NON_CNN_TEST], [2.0, 102.3], 20, False, True),
]

ROW_LABELS = ["2/2/1-1", "8/4/2-2", "10/10/5-5", "10/2/1-1", "4/2/1-1", "20/4/2-2"]
COL_HEADERS = ["N/P/S-C", "IID", "NON-IID<br>Alpha=0.5", "IID", "NON-IID<br>Alpha=0.5"]
BIG_LEGEND = ["mnist snn train acc", "mnsit snn test acc", "mnist cnn train acc", "mnist cnn test acc"]

# styling
LINE_STYLES = [
    dict(color="rgba(221,132,82,0.55)", width=1.2, dash="solid"),
    dict(color="#DD8452", width=1.2, dash="4px,2px"),
    dict(color="rgba(76,114,176,0.45)", width=1.3, dash="1px,1.5px"),
    dict(color="#4C72B0", width=1.2, dash="4px,1.5px,1px,1.5px"),
]
BIG_COLORS = ["#E8C6B7", "#E0814A", "#9BAAD1", "#4A6CAA"]

COL_PX = [(212, 682), (759, 1228), (1408, 1878), (1955, 2423)]
ROW_PX = [(152, 572), (653, 1071), (1153, 1572)]


def px_x(x):
    return x / W


def px_y(y):
    return 1 - y / H


fig = go.Figure()
layout = dict(width=W, height=H, margin=dict(l=0, r=0, t=0, b=0),
              paper_bgcolor="white", plot_bgcolor="#EAEAF2", showlegend=True)
annotations = []
shapes = []
tick_font = dict(family="DejaVu Sans", size=11, color="#333333")

for i, (title, series, yrange, ydtick, ytitle, xtitle) in enumerate(PANELS):
    r, c = divmod(i, 4)
    n = "" if i == 0 else str(i + 1)
    x0, x1 = COL_PX[c]
    y0, y1 = ROW_PX[r]
    xd = [px_x(x0), px_x(x1)]
    yd = [px_y(y1), px_y(y0)]
    lg = "legend" + n
    for k, ys in enumerate(series):
        xs = EPOCHS if k < 2 else CNN_EPOCHS
        fig.add_trace(go.Scatter(x=xs, y=ys, mode="lines", name=SERIES[k],
                                 line=LINE_STYLES[k], xaxis="x" + n, yaxis="y" + n,
                                 legend=lg, showlegend=True))
    layout["xaxis" + n] = dict(domain=xd, anchor="y" + n, range=[-9.95, 208.95],
                               tick0=0, dtick=25, showgrid=True, gridcolor="white", gridwidth=1,
                               zeroline=False, showline=False, ticks="", tickfont=tick_font,
                               title=dict(text="Epoch" if xtitle else "", font=dict(family="DejaVu Sans", size=13, color="#333333"),
                                          standoff=2))
    layout["yaxis" + n] = dict(domain=yd, anchor="x" + n, range=yrange,
                               tick0=0, dtick=ydtick, showgrid=True, gridcolor="white", gridwidth=1,
                               zeroline=False, showline=False, ticks="", tickfont=tick_font,
                               title=dict(text="ACC" if ytitle else "", font=dict(family="DejaVu Sans", size=13, color="#333333"),
                                          standoff=4))
    layout[lg] = dict(x=xd[1] - 0.0015, y=yd[0] + 0.0025, xanchor="right", yanchor="bottom",
                      bgcolor="rgba(244,244,248,0.85)", bordercolor="#D8D8E0", borderwidth=1,
                      font=dict(family="DejaVu Sans", size=9, color="#333333"),
                      tracegroupgap=0, itemwidth=30, traceorder="normal")
    annotations.append(dict(text=title, x=(xd[0] + xd[1]) / 2, y=yd[1], xref="paper", yref="paper",
                            xanchor="center", yanchor="bottom", showarrow=False,
                            font=dict(family="DejaVu Sans", size=10.5, color="#222222")))

serif = dict(family="Liberation Serif, Times New Roman, serif", size=38, color="black")

# column headers
head_pos = [(101, 59), (441, 59), (978, 59), (1680, 59), (2176, 59)]
for txt, (hx, hy) in zip(COL_HEADERS, head_pos):
    annotations.append(dict(text=txt, x=px_x(hx), y=px_y(hy), xref="paper", yref="paper",
                            xanchor="center", yanchor="middle", showarrow=False, font=serif))

# row labels
row_pos = [(102, 362), (1304, 360), (104, 864), (1304, 862), (102, 1370), (1304, 1370)]
for txt, (lx, ly) in zip(ROW_LABELS, row_pos):
    annotations.append(dict(text=txt, x=px_x(lx), y=px_y(ly), xref="paper", yref="paper",
                            xanchor="center", yanchor="middle", showarrow=False, font=serif))

# big legend row at the bottom
circ_x = [258, 767, 1250, 1761]
text_x = [359, 866, 1353, 1861]
cy, rad = 1705, 34
big_font = dict(family="Liberation Serif, Times New Roman, serif", size=37, color="black")
for col, cx, tx, txt in zip(BIG_COLORS, circ_x, text_x, BIG_LEGEND):
    shapes.append(dict(type="circle", xref="paper", yref="paper",
                       x0=px_x(cx - rad), x1=px_x(cx + rad), y0=px_y(cy + rad), y1=px_y(cy - rad),
                       fillcolor=col, line=dict(width=0)))
    annotations.append(dict(text=txt, x=px_x(tx), y=px_y(cy + 4), xref="paper", yref="paper",
                            xanchor="left", yanchor="middle", showarrow=False, font=big_font))

layout["annotations"] = annotations
layout["shapes"] = shapes
fig.update_layout(**layout)
# the page body has a default 8px margin; drop it so the figure fills the window exactly
fig.write_html("out.html", config={"displayModeBar": False},
               post_script="document.body.style.margin='0';document.body.style.overflow='hidden';")
